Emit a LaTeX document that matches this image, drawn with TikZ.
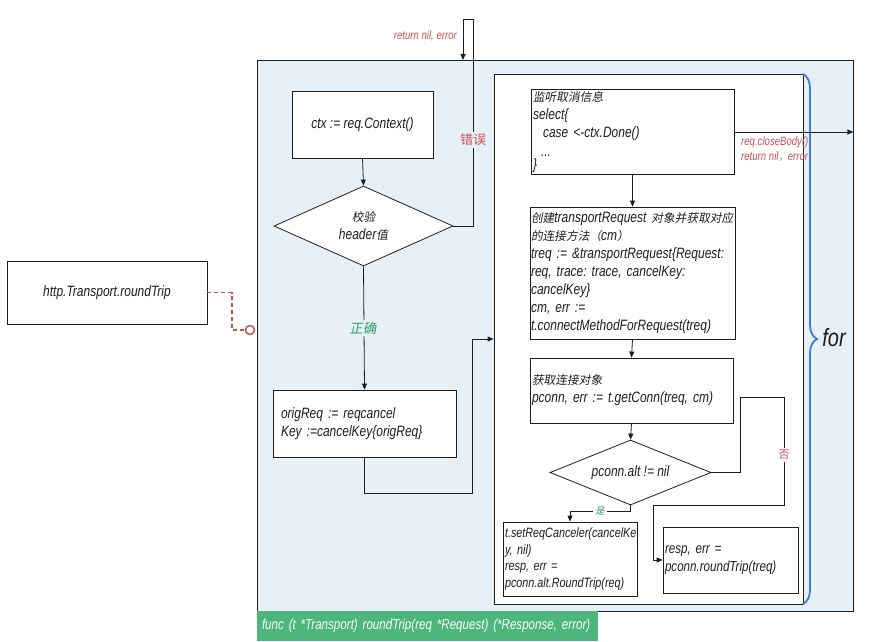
\documentclass[tikz,border=0pt]{standalone}
\usepackage{fontspec}
\setmainfont{Liberation Sans}[FakeStretch=0.8]
\newfontfamily\cjk[FakeSlant=0.18,Scale=0.78]{Noto Sans CJK SC}
\newfontfamily\cjkup{Noto Sans CJK SC}
\usetikzlibrary{shapes.geometric,arrows.meta,decorations.pathreplacing,calc}
\newcommand\ffont[2]{\fontsize{#1}{#2}\selectfont\itshape\frenchspacing\spaceskip=0.22em plus 0.1em minus 0.05em\relax}
\definecolor{bgblue}{HTML}{E8F0F7}
\definecolor{redtxt}{HTML}{C9504F}
\definecolor{greentxt}{HTML}{2E9D6B}
\definecolor{bargreen}{HTML}{4DB67B}
\definecolor{braceblue}{HTML}{3D7FD6}
\definecolor{linegray}{HTML}{1E1E1E}
\tikzset{
  conn/.style={draw=linegray, line width=0.8pt},
  arr/.style={conn, -{Triangle[length=6pt,width=5pt]}},
  box/.style={draw=linegray, fill=white, line width=0.8pt, inner sep=2pt},
  leftbox/.style={box, align=left},
  dia/.style={diamond, draw=linegray, fill=white, line width=0.8pt, inner sep=0pt, align=center},
  redlbl/.style={text=redtxt, inner sep=1pt, font=\ffont{12}{14}},
  mainfont/.style={font=\ffont{15}{18}}
}
\begin{document}
\begin{tikzpicture}[x=1pt,y=-1pt, mainfont, text=linegray]
\useasboundingbox (0,0) rectangle (873,642);
% frames
\node[draw=linegray, fill=bgblue, line width=0.8pt, minimum width=596pt, minimum height=551pt, inner sep=0] (outer) at (555,335.5) {};
\node[draw=linegray, fill=white, line width=0.8pt, minimum width=309pt, minimum height=530pt, inner sep=0] (inner) at (648.5,339) {};
\node[fill=bargreen, minimum width=341pt, minimum height=30pt, inner sep=5pt, text width=331pt, align=left, text=white,
      font=\ffont{14.5}{17}] (bar) at (427.5,626) {\mbox{func (t *Transport) roundTrip(req *Request) (*Response, error)}};
% brace
\draw[braceblue, line width=1.8pt, decorate, decoration={brace, amplitude=14pt}] (803,74) -- (803,604);
\node[font=\ffont{25}{27}] (for) at (834,338) {for};
% left column
\node[box, minimum width=200pt, minimum height=63pt] (http) at (107,292.5) {http.Transport.roundTrip};
\node[box, minimum width=141pt, minimum height=67pt] (ctx) at (362.5,124.5) {ctx := req.Context()};
\node[dia, shape aspect=1.6, minimum width=179pt, minimum height=80pt] (d1) at (363.5,226) {{\cjk 校验}\\header{\cjk 值}};
\node[leftbox, inner xsep=8pt, minimum width=183pt, minimum height=67pt, text width=167pt] (orig) at (364.5,423.5) {origReq := reqcancel\\Key :=cancelKey\{origReq\}};
% right column
\node[leftbox, minimum width=203pt, minimum height=82pt, text width=199pt, font=\ffont{15}{18.3}] (listen) at (632.5,132)
  {{\cjk 监听取消信息}\\select\{\\\hspace*{10pt}case <-ctx.Done()\\\hspace*{8pt}...\\[-5pt]\}};
\node[leftbox, inner xsep=1pt, minimum width=205pt, minimum height=132pt, text width=203pt] (create) at (632.5,273)
  {\mbox{{\cjk 创建}transportRequest {\cjk 对象并获取对应}}\\{\cjk 的连接方法（}cm{\cjk ）}\\treq := \&transportRequest\{Request:\\req, trace: trace, cancelKey:\\cancelKey\}\\cm, err :=\\t.connectMethodForRequest(treq)};
\node[leftbox, minimum width=203pt, minimum height=65pt, text width=199pt] (getconn) at (631.5,390.5)
  {{\cjk 获取连接对象}\\pconn, err := t.getConn(treq, cm)};
\node[dia, shape aspect=2.5, minimum width=161pt, minimum height=65pt] (d2) at (630.5,472.5) {pconn.alt != nil};
\node[leftbox, minimum width=134pt, minimum height=74pt, text width=130pt, font=\ffont{13.5}{16.5}] (setreq) at (570,559)
  {t.setReqCanceler(cancelKe\\y, nil)\\resp, err =\\pconn.alt.RoundTrip(req)};
\node[leftbox, minimum width=135pt, minimum height=66pt, text width=131pt, font=\ffont{14.5}{18}] (rt) at (730.5,560)
  {resp, err =\\pconn.roundTrip(treq)};
% circle port
\node[circle, draw=redtxt, fill=white, line width=1.5pt, minimum size=9pt, inner sep=0] (circ) at (250,330) {};
\coordinate (retin) at (463,60);
% connectors
\draw[draw=redtxt, line width=1.8pt, dash pattern=on 4pt off 3pt] (http.east) -| (232,330) -- (circ.west);
\draw[arr] (ctx.south) -- (d1.north);
\draw[arr] (d1.east) -| (473,19) -| (retin);
\draw[arr] (d1.south) -- (orig.north);
\draw[arr] (orig.south) |- (472,493) |- (inner.west);
\draw[arr] (listen.east) -- (listen.east -| outer.east);
\draw[arr] (listen.south) -- (create.north);
\draw[arr] (create.south) -- (getconn.north);
\draw[arr] (getconn.south) -- (d2.north);
\draw[arr] (d2.east) -- (740,472.5) |- (784,397) -- (784,505) -- (653,505) |- (rt.west);
\draw[arr] (d2.south) -- ++(0,6) -| (setreq.north);
% labels
\node[redlbl, anchor=east] (retnil) at (458,36) {return nil, error};
\node[fill=bgblue, text=redtxt, inner sep=2pt, font=\fontsize{13}{15}\selectfont] (err) at (473,140) {\cjkup 错误};
\node[fill=bgblue, text=greentxt, inner sep=2pt, font=\fontsize{17}{18}\selectfont] (ok) at (363,328) {\cjk 正确};
\node[redlbl, anchor=north west, align=left, font=\ffont{12}{15}] (closebody) at (740,136) {req.closeBody()\\return nil{\cjk ，}error};
\node[fill=white, text=redtxt, inner sep=2pt, font=\fontsize{11}{12}\selectfont] (no) at (784,455) {\cjkup 否};
\node[fill=white, text=greentxt, inner sep=2pt, font=\fontsize{12}{13}\selectfont] (yes) at (600,511) {\cjk 是};
\end{tikzpicture}
\end{document}
